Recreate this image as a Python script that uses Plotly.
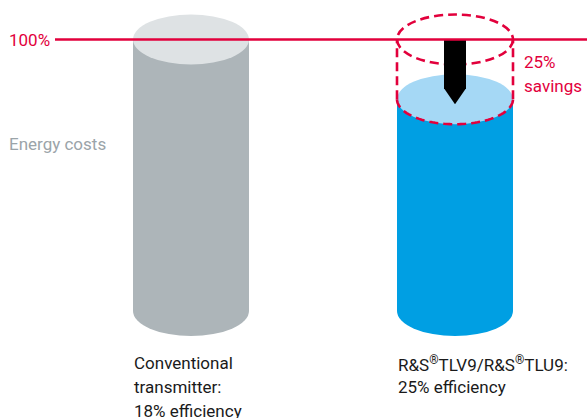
import numpy as np
import plotly.graph_objects as go

# ---- data ----
categories = ["Conventional<br>transmitter:<br>18% efficiency",
              "R&S<sup>®</sup>TLV9/R&S<sup>®</sup>TLU9:<br>25% efficiency"]
energy_costs = [100, 78]          # relative energy costs
reference_level = 100
reference_label = "100%"
savings_label = "25%<br>savings"
axis_title = "Energy costs"

# ---- style ----
W, H = 587, 418
PX_PER_UNIT = 2.715
BASE_PX = 311
y_lo = (BASE_PX - H) / PX_PER_UNIT
y_hi = BASE_PX / PX_PER_UNIT
centers = [191, 455]
RX = 58
RY = 25 / PX_PER_UNIT
RED = "#e2003c"
FONT = "Roboto, Liberation Sans Narrow, sans-serif"
FS = 17
LINE_PX = 24
body_cols = ["#adb5b9", "#009fe3"]
top_cols = ["#dee2e4", "#a5d8f5"]

shapes = []
def ellipse(cx, cy, fill=None, line=None):
    d = dict(type="circle", xref="x", yref="y", x0=cx - RX, x1=cx + RX,
             y0=cy - RY, y1=cy + RY, layer="above")
    if fill:
        d["fillcolor"] = fill
    d["line"] = line if line else dict(width=0)
    return d

for cx, v, bc, tc in zip(centers, energy_costs, body_cols, top_cols):
    shapes.append(ellipse(cx, 0, fill=bc))
    shapes.append(dict(type="rect", xref="x", yref="y", x0=cx - RX, x1=cx + RX,
                       y0=0, y1=v, fillcolor=bc, line=dict(width=0), layer="above"))
    shapes.append(ellipse(cx, v, fill=tc))

# dashed outline of saved part on second cylinder
cx, v = centers[1], energy_costs[1]
dash = dict(color=RED, width=2.6, dash="9px,5px")
t = np.linspace(np.pi, 2 * np.pi, 60)
pts = [(cx + RX * np.cos(a), v + RY * np.sin(a)) for a in t]
path = "M " + " L ".join(f"{x:.2f},{y:.3f}" for x, y in pts)
shapes.append(dict(type="path", xref="x", yref="y", path=path, line=dash, layer="above"))
for sx in (cx - RX, cx + RX):
    shapes.append(dict(type="line", xref="x", yref="y", x0=sx, x1=sx,
                       y0=v, y1=reference_level, line=dash, layer="above"))
shapes.append(ellipse(cx, reference_level, line=dash))

# arrow
hw = 11
tip = v - 5 / PX_PER_UNIT
shoulder = v + 11 / PX_PER_UNIT
arrow = (f"M {cx-hw},{reference_level} L {cx+hw},{reference_level} L {cx+hw},{shoulder} "
         f"L {cx},{tip} L {cx-hw},{shoulder} Z")
shapes.append(dict(type="path", xref="x", yref="y", path=arrow, fillcolor="#000000",
                   line=dict(width=0), layer="above"))

# reference line
shapes.append(dict(type="line", xref="x", yref="y", x0=55, x1=W, y0=reference_level,
                   y1=reference_level, line=dict(color=RED, width=2.5), layer="above"))

annotations = [
    dict(x=7, y=reference_level, xref="x", yref="y", text=reference_label, showarrow=False,
         xanchor="left", yanchor="middle", font=dict(family=FONT, size=FS, color=RED)),
    dict(x=7, y=(BASE_PX - 144) / PX_PER_UNIT, xref="x", yref="y", text=axis_title,
         showarrow=False, xanchor="left", yanchor="middle",
         font=dict(family=FONT, size=FS, color="#9ba4a9")),
]
for i, line in enumerate(savings_label.split("<br>")):
    annotations.append(dict(x=522, y=(BASE_PX - 62 - LINE_PX * i) / PX_PER_UNIT, xref="x",
                            yref="y", text=line, showarrow=False, xanchor="left",
                            yanchor="middle", font=dict(family=FONT, size=FS, color=RED)))
for cx, lab in zip(centers, categories):
    for i, line in enumerate(lab.split("<br>")):
        annotations.append(dict(x=cx - RX - 1, y=(BASE_PX - 351 - LINE_PX * i) / PX_PER_UNIT,
                                xref="x", yref="y", text=line, showarrow=False,
                                xanchor="left", yanchor="top", align="left",
                                font=dict(family=FONT, size=FS, color="#1a1a1a")))

fig = go.Figure()
fig.add_trace(go.Scatter(x=[0, W], y=[y_lo, y_hi], mode="markers",
                         marker=dict(opacity=0), hoverinfo="skip", showlegend=False))
fig.update_layout(
    width=W, height=H, margin=dict(l=0, r=0, t=0, b=0),
    paper_bgcolor="white", plot_bgcolor="white",
    xaxis=dict(range=[0, W], visible=False, fixedrange=True),
    yaxis=dict(range=[y_lo, y_hi], visible=False, fixedrange=True),
    shapes=shapes, annotations=annotations, showlegend=False,
)
fig.write_html("out.html", config={"displayModeBar": False},
               post_script="document.body.style.margin='0';document.body.style.overflow='hidden';")
